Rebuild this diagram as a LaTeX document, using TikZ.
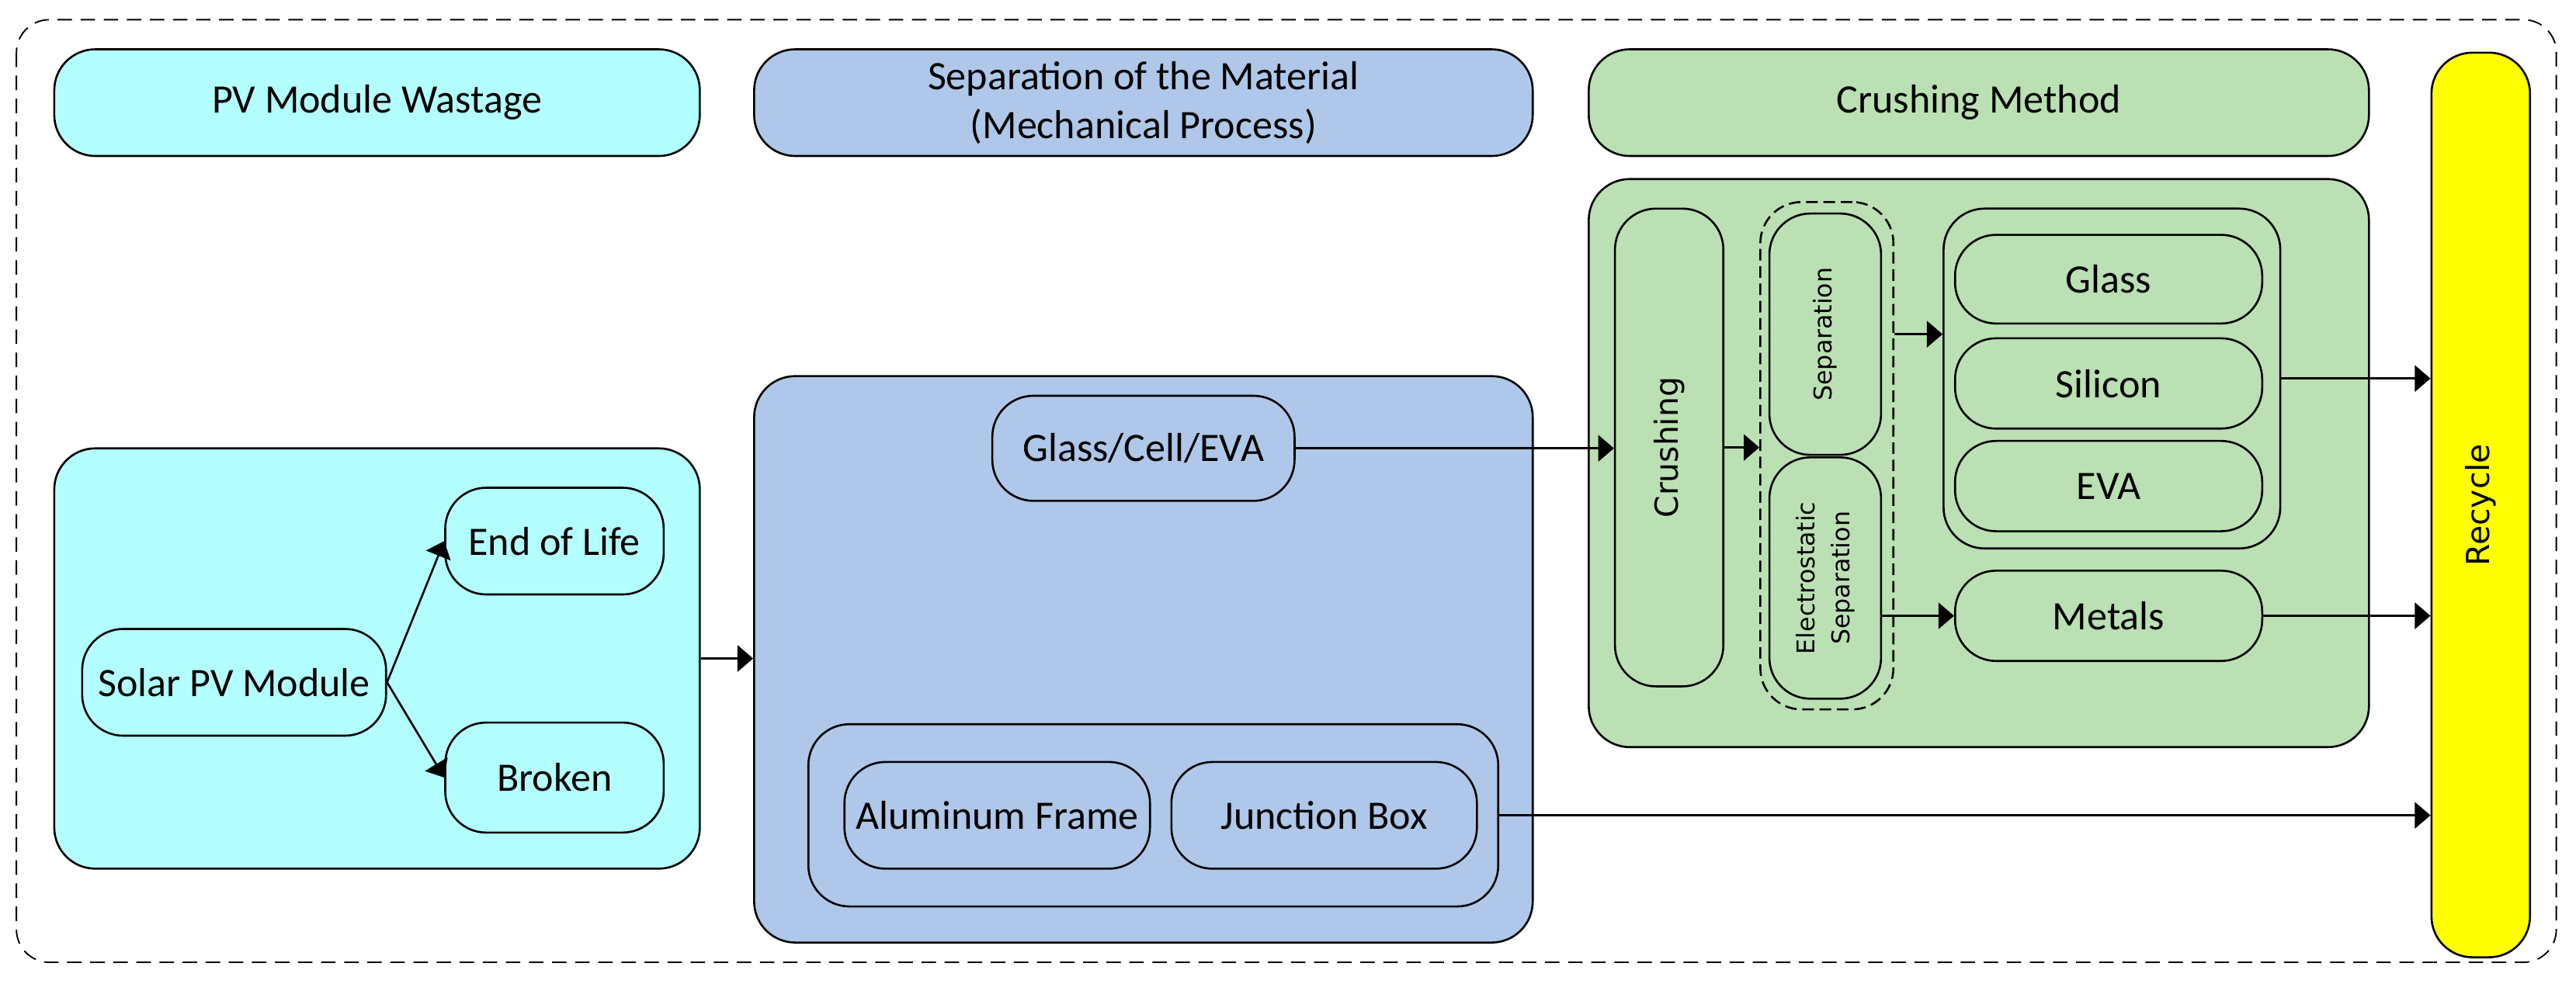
\documentclass[tikz,border=0pt]{standalone}
\usepackage{fontspec}
\setmainfont{Carlito}
\newfontfamily\rotfont{DejaVu Sans}
\usetikzlibrary{arrows.meta}
\definecolor{wastecyan}{RGB}{179,255,255}
\definecolor{sepblue}{RGB}{175,199,232}
\definecolor{crushgreen}{RGB}{187,224,179}
\definecolor{recycleyellow}{RGB}{255,255,0}
\begin{document}
\begin{tikzpicture}[x=0.02cm, y=-0.02cm,
    box/.style={draw, line width=0.7pt, rounded corners=0.5cm, inner sep=0pt, align=center, font=\fontsize{14}{17}\selectfont},
    cyanbox/.style={box, fill=wastecyan},
    bluebox/.style={box, fill=sepblue},
    greenbox/.style={box, fill=crushgreen},
    vtext/.style={rotate=90, font=\rotfont\fontsize{#1}{12}\selectfont},
    arr/.style={line width=0.7pt, -{Triangle[length=0.19cm, width=0.32cm]}}]
  \useasboundingbox (0,0) rectangle (1568,599);
  \draw[dashed, dash pattern=on 5pt off 3pt, line width=0.5pt, rounded corners=0.4cm] (10,12) rectangle (1556,586);

  \node[cyanbox, minimum width=7.86cm, minimum height=1.3cm] (hwaste) at (229.5,62.5) {PV Module Wastage};
  \node[bluebox, minimum width=9.48cm, minimum height=1.3cm] (hsep) at (696,62.5) {Separation of the Material\\(Mechanical Process)};
  \node[greenbox, minimum width=9.5cm, minimum height=1.3cm] (hcrush) at (1204.5,62.5) {Crushing Method};
  \node[box, fill=recycleyellow, minimum width=1.2cm, minimum height=11.02cm] (recycle) at (1510,307.5) {};
  \node[vtext=11] at (recycle) {Recycle};

  \node[cyanbox, minimum width=7.86cm, minimum height=5.12cm] (wastebox) at (229.5,401) {};
  \node[cyanbox, minimum width=3.7cm, minimum height=1.3cm] (solar) at (142.5,415.5) {Solar PV Module};
  \node[cyanbox, minimum width=2.66cm, minimum height=1.3cm] (eol) at (337.5,329.5) {End of Life};
  \node[cyanbox, minimum width=2.66cm, minimum height=1.34cm] (broken) at (337.5,473.5) {Broken};

  \node[bluebox, minimum width=9.48cm, minimum height=6.9cm] (sepbox) at (696,401.5) {};
  \node[bluebox, minimum width=3.68cm, minimum height=1.28cm] (gce) at (696,273) {Glass/Cell/EVA};
  \node[bluebox, minimum width=8.4cm, minimum height=2.22cm] (partsbox) at (702,496.5) {};
  \node[bluebox, minimum width=3.72cm, minimum height=1.3cm] (alu) at (607,496.5) {Aluminum Frame};
  \node[bluebox, minimum width=3.72cm, minimum height=1.3cm] (jbox) at (806,496.5) {Junction Box};

  \node[greenbox, minimum width=9.5cm, minimum height=6.92cm] (crushbox) at (1204.5,282) {};
  \node[greenbox, minimum width=1.32cm, minimum height=5.82cm] (crush) at (1016,272.5) {};
  \node[vtext=11] at (crush) {Crushing};
  \node[box, dashed, dash pattern=on 4pt off 2pt, minimum width=1.62cm, minimum height=6.18cm] (sepgroup) at (1112,277.5) {};
  \node[greenbox, minimum width=1.36cm, minimum height=2.94cm] (sepa) at (1111,203.5) {};
  \node[vtext=8.5] at (sepa) {Separation};
  \node[greenbox, minimum width=1.36cm, minimum height=2.94cm] (esep) at (1111,352) {};
  \node[vtext=8.5, align=center] at (esep) {Electrostatic\\Separation};
  \node[greenbox, minimum width=4.1cm, minimum height=4.14cm] (matbox) at (1285.5,230.5) {};
  \node[greenbox, minimum width=3.74cm, minimum height=1.08cm] (glass) at (1283.5,170) {Glass};
  \node[greenbox, minimum width=3.74cm, minimum height=1.1cm] (silicon) at (1283.5,233.5) {Silicon};
  \node[greenbox, minimum width=3.74cm, minimum height=1.1cm] (eva) at (1283.5,296) {EVA};
  \node[greenbox, minimum width=3.74cm, minimum height=1.1cm] (metals) at (1283.5,375) {Metals};

  \draw[arr] (solar.east) -- (eol.west);
  \draw[arr] (solar.east) -- (broken.west);
  \draw[arr] (wastebox.east) -- (wastebox.east -| sepbox.west);
  \draw[arr] (gce.east) -- (gce.east -| crush.west);
  \draw[arr] (crush.east) -- (crush.east -| sepgroup.west);
  \draw[arr] (sepa.east -| sepgroup.east) -- (sepa.east -| matbox.west);
  \draw[arr] (metals.west -| esep.east) -- (metals.west);
  \draw[arr] (matbox.east) -- (matbox.east -| recycle.west);
  \draw[arr] (metals.east) -- (metals.east -| recycle.west);
  \draw[arr] (partsbox.east) -- (partsbox.east -| recycle.west);
\end{tikzpicture}
\end{document}
